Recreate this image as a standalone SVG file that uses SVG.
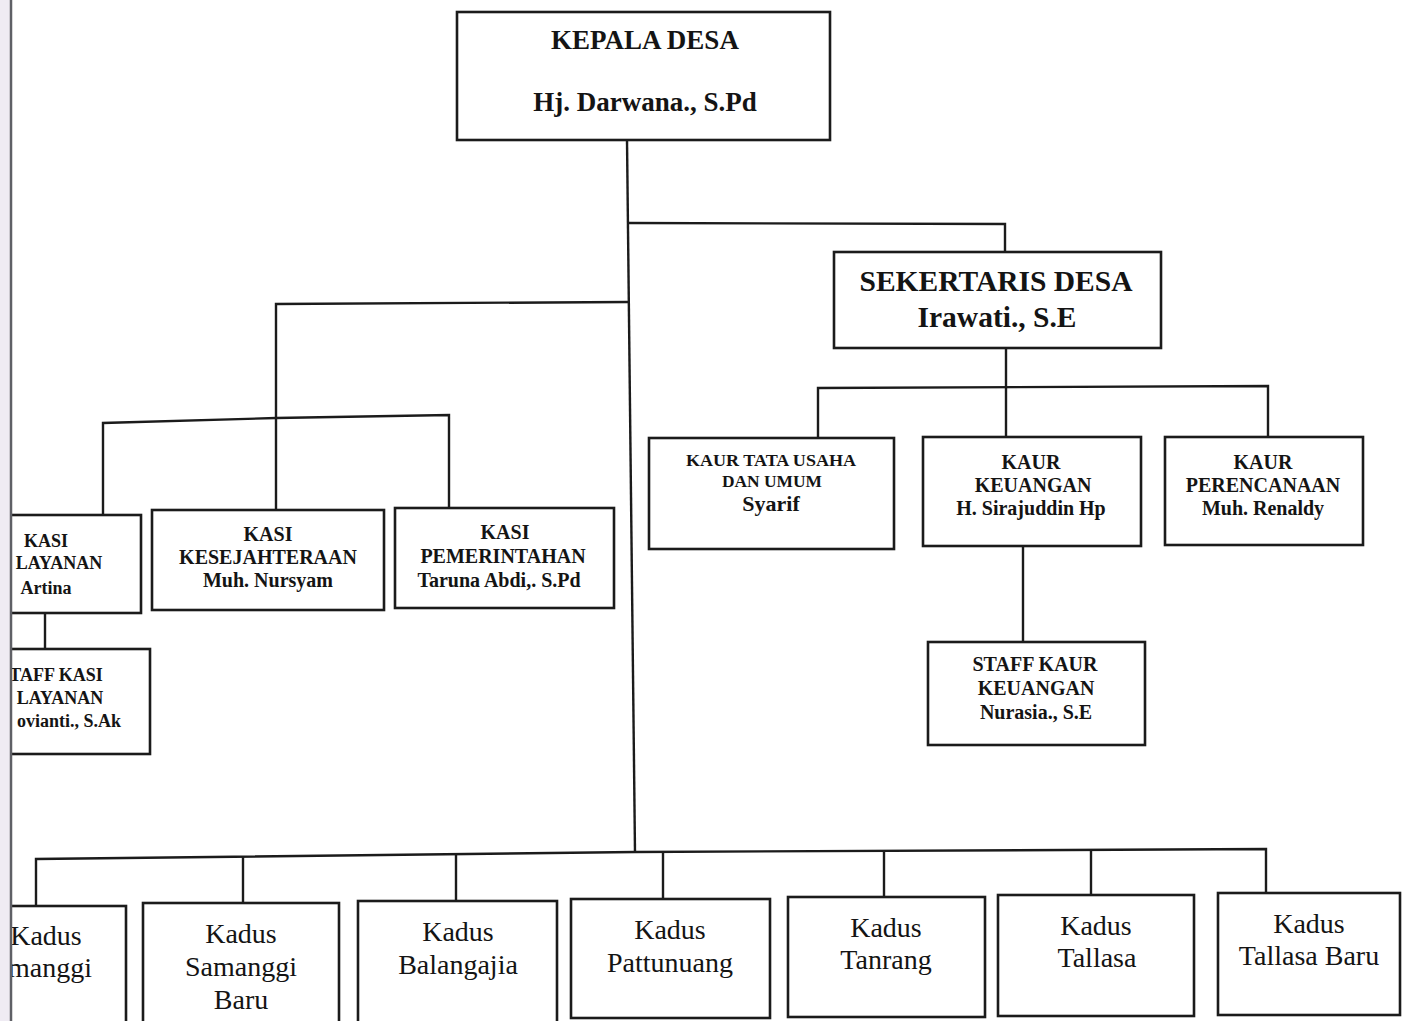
<svg xmlns="http://www.w3.org/2000/svg" width="1409" height="1021" viewBox="0 0 1409 1021">
<style>
.box{fill:#fff;stroke:#1b1b1b;stroke-width:2.6}
.ln{fill:none;stroke:#1b1b1b;stroke-width:2.4}
.t{font-family:"Liberation Serif","Times New Roman",serif;fill:#141414;text-anchor:middle}
.b{font-weight:bold}
.s20{font-size:20px}
.s18{font-size:18px}
.k{font-size:28px}
</style>
<rect x="0" y="0" width="1409" height="1021" fill="#ffffff"/>
<g id="connectors">
<path class="ln" d="M627,140 L635,852"/>
<path class="ln" d="M628,223 L1005,224 L1005,252"/>
<path class="ln" d="M628,302 L276,304 L276,511"/>
<path class="ln" d="M103,515 L103,423 L276,418 L449,415 L449,509"/>
<path class="ln" d="M1006,348 L1006,437"/>
<path class="ln" d="M818,438 L818,388 L1268,386 L1268,437"/>
<path class="ln" d="M1023,546 L1023,642"/>
<path class="ln" d="M45,613 L45,650"/>
<path class="ln" d="M36,906 L36,859 L635,852 L1266,849 L1266,893"/>
<path class="ln" d="M243,857 L243,903"/>
<path class="ln" d="M456,855 L456,901"/>
<path class="ln" d="M663,852 L663,899"/>
<path class="ln" d="M884,851 L884,897"/>
<path class="ln" d="M1091,850 L1091,895"/>
</g>
<g id="kepala-desa">
<rect class="box" x="457" y="12" width="373" height="128"/>
<text class="t b" x="645" y="49" font-size="27">KEPALA DESA</text>
<text class="t b" x="645" y="111" font-size="27">Hj. Darwana., S.Pd</text>
</g>
<g id="sekertaris-desa">
<rect class="box" x="834" y="252" width="327" height="96"/>
<text class="t b" x="996" y="291" font-size="29.5">SEKERTARIS DESA</text>
<text class="t b" x="997" y="327" font-size="29.5">Irawati., S.E</text>
</g>
<g id="kaur-tata-usaha">
<rect class="box" x="649" y="438" width="245" height="111"/>
<text class="t b" x="771" y="466" font-size="16" textLength="170" lengthAdjust="spacingAndGlyphs">KAUR TATA USAHA</text>
<text class="t b" x="772" y="487" font-size="16" textLength="100" lengthAdjust="spacingAndGlyphs">DAN UMUM</text>
<text class="t b" x="771" y="511" font-size="22">Syarif</text>
</g>
<g id="kaur-keuangan">
<rect class="box" x="923" y="437" width="218" height="109"/>
<text class="t b s20" x="1031" y="469">KAUR</text>
<text class="t b s20" x="1033" y="492">KEUANGAN</text>
<text class="t b s20" x="1031" y="515">H. Sirajuddin Hp</text>
</g>
<g id="kaur-perencanaan">
<rect class="box" x="1165" y="437" width="198" height="108"/>
<text class="t b s20" x="1263" y="469">KAUR</text>
<text class="t b s20" x="1263" y="492">PERENCANAAN</text>
<text class="t b s20" x="1263" y="515">Muh. Renaldy</text>
</g>
<g id="staff-kaur-keuangan">
<rect class="box" x="928" y="642" width="217" height="103"/>
<text class="t b s20" x="1035" y="671">STAFF KAUR</text>
<text class="t b s20" x="1036" y="695">KEUANGAN</text>
<text class="t b s20" x="1036" y="719">Nurasia., S.E</text>
</g>
<g id="kasi-kesejahteraan">
<rect class="box" x="152" y="510" width="232" height="100"/>
<text class="t b s20" x="268" y="541">KASI</text>
<text class="t b s20" x="268" y="564">KESEJAHTERAAN</text>
<text class="t b s20" x="268" y="587">Muh. Nursyam</text>
</g>
<g id="kasi-pemerintahan">
<rect class="box" x="395" y="508" width="219" height="100"/>
<text class="t b s20" x="505" y="539">KASI</text>
<text class="t b s20" x="503" y="563">PEMERINTAHAN</text>
<text class="t b s20" x="499" y="587">Taruna Abdi,. S.Pd</text>
</g>
<g id="kasi-layanan">
<rect class="box" x="6" y="515" width="135" height="98"/>
<text class="t b s18" x="46" y="547">KASI</text>
<text class="t b s18" x="59" y="569">LAYANAN</text>
<text class="t b s18" x="46" y="594">Artina</text>
</g>
<g id="staff-kasi-layanan">
<rect class="box" x="6" y="649" width="144" height="105"/>
<text class="t b s18" x="56" y="681">TAFF KASI</text>
<text class="t b s18" x="60" y="704">LAYANAN</text>
<text class="t b s18" x="69" y="727">ovianti., S.Ak</text>
</g>
<g id="kadus-samanggi">
<rect class="box" x="6" y="906" width="120" height="125"/>
<text class="t k" x="46" y="945">Kadus</text>
<text class="t k" x="50" y="977">manggi</text>
</g>
<g id="kadus-samanggi-baru">
<rect class="box" x="143" y="903" width="196" height="128"/>
<text class="t k" x="241" y="943">Kadus</text>
<text class="t k" x="241" y="976">Samanggi</text>
<text class="t k" x="241" y="1009">Baru</text>
</g>
<g id="kadus-balangajia">
<rect class="box" x="358" y="901" width="199" height="130"/>
<text class="t k" x="458" y="941">Kadus</text>
<text class="t k" x="458" y="974">Balangajia</text>
</g>
<g id="kadus-pattunuang">
<rect class="box" x="571" y="899" width="199" height="119"/>
<text class="t k" x="670" y="939">Kadus</text>
<text class="t k" x="670" y="972">Pattunuang</text>
</g>
<g id="kadus-tanrang">
<rect class="box" x="788" y="897" width="197" height="120"/>
<text class="t k" x="886" y="937">Kadus</text>
<text class="t k" x="886" y="969">Tanrang</text>
</g>
<g id="kadus-tallasa">
<rect class="box" x="998" y="895" width="196" height="121"/>
<text class="t k" x="1096" y="935">Kadus</text>
<text class="t k" x="1097" y="967">Tallasa</text>
</g>
<g id="kadus-tallasa-baru">
<rect class="box" x="1218" y="893" width="182" height="122"/>
<text class="t k" x="1309" y="933">Kadus</text>
<text class="t k" x="1309" y="965">Tallasa Baru</text>
</g>
<rect x="0" y="0" width="10" height="1021" fill="#efebf3"/>
<line x1="11" y1="0" x2="11" y2="1021" stroke="#5f6066" stroke-width="2.5"/>
</svg>
